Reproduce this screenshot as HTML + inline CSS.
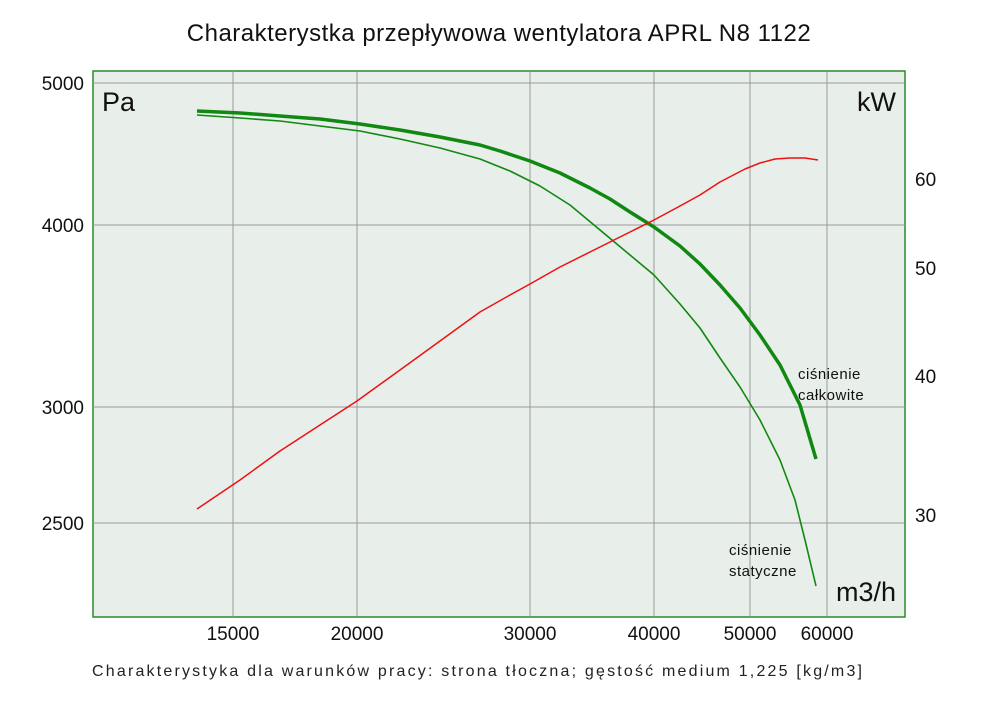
<!DOCTYPE html>
<html><head><meta charset="utf-8"><style>
body{margin:0;background:#fff;}
svg text{font-family:"Liberation Sans","DejaVu Sans",sans-serif;}
</style></head><body>
<svg width="1000" height="706" viewBox="0 0 1000 706" xmlns="http://www.w3.org/2000/svg">
<rect x="0" y="0" width="1000" height="706" fill="#fff"/>
<text x="499" y="41" font-size="24" fill="#111" text-anchor="middle" letter-spacing="0.5">Charakterystka przepływowa wentylatora APRL N8 1122</text>
<rect x="93" y="71" width="812" height="546" fill="#e8eeea" stroke="#2a8a2a" stroke-width="1.5"/>
<g stroke="#999" stroke-width="1">
<line x1="93" y1="83" x2="905" y2="83"/><line x1="93" y1="225" x2="905" y2="225"/>
<line x1="93" y1="407" x2="905" y2="407"/><line x1="93" y1="523" x2="905" y2="523"/>
<line x1="233" y1="71" x2="233" y2="617"/><line x1="357" y1="71" x2="357" y2="617"/>
<line x1="530" y1="71" x2="530" y2="617"/><line x1="654" y1="71" x2="654" y2="617"/>
<line x1="750" y1="71" x2="750" y2="617"/><line x1="827" y1="71" x2="827" y2="617"/>
</g>
<g font-size="19" fill="#111" text-anchor="end">
<text x="84" y="90">5000</text><text x="84" y="232">4000</text><text x="84" y="414">3000</text><text x="84" y="530">2500</text>
</g>
<g font-size="19" fill="#111">
<text x="915" y="186">60</text><text x="915" y="275">50</text><text x="915" y="383">40</text><text x="915" y="522">30</text>
</g>
<g font-size="19" fill="#111" text-anchor="middle">
<text x="233" y="640">15000</text><text x="357" y="640">20000</text><text x="530" y="640">30000</text>
<text x="654" y="640">40000</text><text x="750" y="640">50000</text><text x="827" y="640">60000</text>
</g>
<text x="102" y="111" font-size="27" fill="#111">Pa</text>
<text x="896" y="111" font-size="27" fill="#111" text-anchor="end">kW</text>
<text x="896" y="601" font-size="27" fill="#111" text-anchor="end">m3/h</text>
<g font-size="15" fill="#111" letter-spacing="0.5">
<text x="798" y="379">ciśnienie</text>
<text x="798" y="400">całkowite</text>
<text x="729" y="555">ciśnienie</text>
<text x="729" y="576">statyczne</text>
</g>
<polyline points="197,111 240,113 280,116 320,119 360,124 400,130 440,137 480,145 500,151 530,161 560,173 590,188 610,199 630,212 654,227 680,246 700,264 720,285 740,308 760,335 780,365 800,405 816,459" fill="none" stroke="#118811" stroke-width="3.5" stroke-linejoin="round"/>
<polyline points="197,115 240,118 280,121 320,126 360,131 400,139 440,148 480,159 510,171 540,186 570,205 600,230 630,255 654,275 680,304 700,328 720,358 740,387 760,420 780,460 795,500 805,540 816,586" fill="none" stroke="#118811" stroke-width="1.6" stroke-linejoin="round"/>
<polyline points="197,509 240,480 280,451 320,425 357,401 400,370 440,341 480,312 510,295 530,284 560,267 600,247 630,232 654,220 680,206 700,195 720,182 745,169 760,163 775,159 790,158 805,158 818,160" fill="none" stroke="#ee1111" stroke-width="1.5" stroke-linejoin="round"/>
<text x="92" y="676" font-size="16" fill="#222" textLength="770" lengthAdjust="spacing">Charakterystyka dla warunków pracy: strona tłoczna; gęstość medium 1,225 [kg/m3]</text>
</svg>
</body></html>
